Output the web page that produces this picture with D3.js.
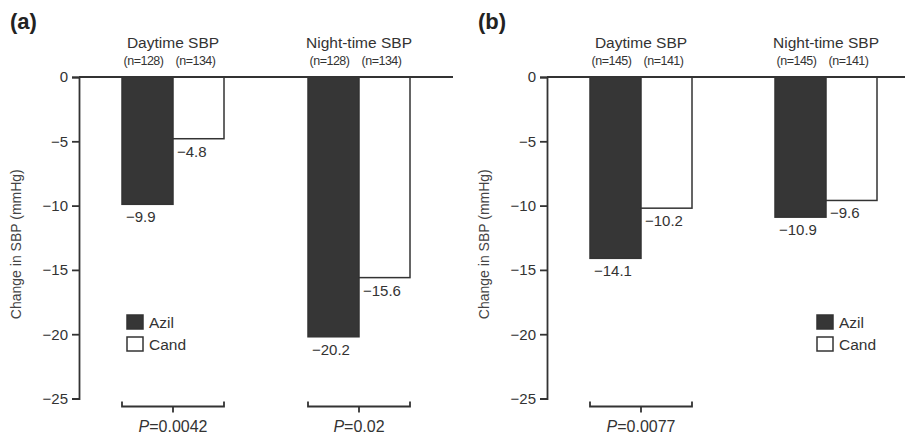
<!DOCTYPE html>
<html>
<head>
<meta charset="utf-8">
<script src="https://d3js.org/d3.v7.min.js"></script>
<style>
  body { margin: 0; background: #fff; }
  text { font-family: "Liberation Sans", Arial, sans-serif; fill: #333; }
</style>
</head>
<body>
<div id="chart"></div>
<script>
// data
var categories = ["Daytime SBP", "Night-time SBP"];
var series = ["Azil", "Cand"];
var panels = ["(a)", "(b)"];
var azilA = [-9.9, -20.2], candA = [-4.8, -15.6];
var azilB = [-14.1, -10.9], candB = [-10.2, -9.6];
var nAzilA = [128, 128], nCandA = [134, 134];
var nAzilB = [145, 145], nCandB = [141, 141];
var pA = ["0.0042", "0.02"], pB = ["0.0077", null];
var yTicks = [0, -5, -10, -15, -20, -25];

var W = 907, H = 434, barW = 51;

var svg = d3.select("#chart").append("svg")
    .attr("width", W).attr("height", H);

var y = d3.scaleLinear().domain([0, -25]).range([77, 398.5]);

var colour = d3.scaleOrdinal().domain(series).range(["#363636", "#ffffff"]);

var layout = [
  {label: panels[0], axisX: 79, zeroEnd: 453, centers: [173, 359], azil: azilA, cand: candA,
   nA: nAzilA, nC: nCandA, p: pA, legendX: 127},
  {label: panels[1], axisX: 547, zeroEnd: 905, centers: [641, 826], azil: azilB, cand: candB,
   nA: nAzilB, nC: nCandB, p: pB, legendX: 817}
];

function minus(v, digits) {
  return v < 0 ? "\u2212" + Math.abs(v).toFixed(digits) : v.toFixed(digits);
}

layout.forEach(function(pn) {
  var g = svg.append("g");
  var x = d3.scalePoint().domain(categories).range(pn.centers);

  // panel letter
  g.append("text").attr("x", pn.axisX - 69).attr("y", 29)
    .style("font-size", "22px").style("font-weight", "bold").style("fill", "#222")
    .text(pn.label);

  // y axis
  var ax = g.append("g").attr("transform", "translate(" + pn.axisX + ",0)")
    .call(d3.axisLeft(y).tickValues(yTicks).tickSize(7).tickPadding(4)
      .tickFormat(function(d) { return minus(d, 0); }));
  ax.select(".domain").attr("stroke", "#333").attr("stroke-width", 1.8);
  ax.selectAll(".tick line").attr("stroke", "#333").attr("stroke-width", 1.8);
  ax.selectAll(".tick text").style("font-size", "15px").style("fill", "#333")
    .style("font-family", "'Liberation Sans', Arial, sans-serif");

  g.append("text")
    .attr("transform", "translate(" + (pn.axisX - 58) + "," + y(-13) + ") rotate(-90)")
    .attr("text-anchor", "middle").style("font-size", "14px").style("fill", "#444")
    .text("Change in SBP (mmHg)");

  // bars
  var rows = [];
  categories.forEach(function(c, i) {
    rows.push({cat: c, s: series[0], v: pn.azil[i], n: pn.nA[i], off: -barW});
    rows.push({cat: c, s: series[1], v: pn.cand[i], n: pn.nC[i], off: 0});
  });

  g.selectAll("rect.bar").data(rows).enter().append("rect")
    .attr("class", "bar")
    .attr("x", function(d) { return x(d.cat) + d.off; })
    .attr("y", y(0))
    .attr("width", barW)
    .attr("height", function(d) { return y(d.v) - y(0); })
    .attr("fill", function(d) { return colour(d.s); })
    .attr("stroke", "#333").attr("stroke-width", 1.5);

  g.selectAll("text.val").data(rows).enter().append("text")
    .attr("x", function(d) { return x(d.cat) + d.off + 4; })
    .attr("y", function(d) { return y(d.v) + 18; })
    .style("font-size", "15px")
    .text(function(d) { return minus(d.v, 1); });

  // zero line
  g.append("line").attr("x1", pn.axisX).attr("x2", pn.zeroEnd)
    .attr("y1", y(0)).attr("y2", y(0)).attr("stroke", "#333").attr("stroke-width", 1.8);

  // category titles and n
  g.selectAll("text.cat").data(categories).enter().append("text")
    .attr("x", function(d) { return x(d); }).attr("y", 48)
    .attr("text-anchor", "middle").style("font-size", "15.5px")
    .text(function(d) { return d; });
  g.selectAll("text.n").data(rows).enter().append("text")
    .attr("x", function(d) { return x(d.cat) + d.off + barW / 2 + (d.off ? -4 : -3); })
    .attr("y", 65).attr("text-anchor", "middle")
    .style("font-size", "12.5px").style("letter-spacing", "-0.5px")
    .text(function(d) { return "(n=" + d.n + ")"; });

  // p-value brackets
  categories.forEach(function(c, i) {
    if (!pn.p[i]) return;
    var x0 = x(c) - barW, x1 = x(c) + barW, by = 406.5;
    g.append("path")
      .attr("d", "M" + x0 + "," + (by - 5) + "V" + by + "H" + x1 + "V" + (by - 5) +
        "M" + x(c) + "," + by + "V" + (by + 6))
      .attr("fill", "none").attr("stroke", "#333").attr("stroke-width", 1.8);
    var t = g.append("text").attr("x", x(c)).attr("y", 432)
      .attr("text-anchor", "middle").style("font-size", "16px");
    t.append("tspan").style("font-style", "italic").text("P");
    t.append("tspan").text("=" + pn.p[i]);
  });

  // legend
  var lg = g.append("g").attr("transform", "translate(" + pn.legendX + ",315)");
  series.forEach(function(s, i) {
    lg.append("rect").attr("x", 0).attr("y", i * 22).attr("width", 16).attr("height", 14)
      .attr("fill", colour(s)).attr("stroke", "#333").attr("stroke-width", 1.5);
    lg.append("text").attr("x", 22).attr("y", i * 22 + 13)
      .style("font-size", "15.5px").text(s);
  });
});
</script>
</body>
</html>
